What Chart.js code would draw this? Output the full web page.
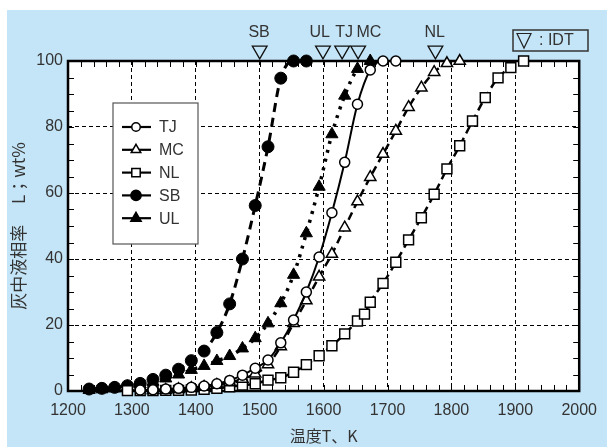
<!DOCTYPE html>
<html><head><meta charset="utf-8">
<script src="https://cdn.jsdelivr.net/npm/chart.js"></script>
<style>html,body{margin:0;padding:0;background:#fff}</style>
</head><body>
<canvas id="c" width="607" height="447"></canvas>
<script>
// ---- data ----
const tjT = [1313,1333,1353,1373,1393,1413,1433,1453,1473,1493,1513,1533,1553,1573,1593,1613,1633,1653,1673,1693,1713];
const tjL = [0.3,0.4,0.6,0.8,1.1,1.5,2.2,3.2,4.8,6.9,9.4,14.6,21.5,30,40.6,54,69.3,86.9,97.3,100,100];
const mcT = [1333,1353,1373,1393,1413,1433,1453,1473,1493,1513,1533,1553,1573,1593,1613,1633,1653,1673,1693,1713,1733,1753,1773,1793,1813];
const mcL = [0.2,0.3,0.5,0.8,1.2,1.8,2.6,3.6,5.2,8.0,13.5,20.5,27.4,34.6,41.5,49.5,57.4,64.8,71.8,78.8,86,91.9,96.6,99.3,100];
const nlT = [1293,1313,1333,1353,1373,1393,1413,1433,1453,1473,1493,1513,1533,1553,1573,1593,1613,1633,1653,1664,1673,1693,1713,1733,1753,1773,1793,1813,1833,1853,1873,1893,1913];
const nlL = [0.1,0.1,0.1,0.2,0.2,0.3,0.5,0.8,1.3,1.8,2.2,3.3,4.0,5.7,8.0,10.7,13.7,17.3,21.2,23.3,26.9,32.6,39,45.8,52.5,59.6,67.3,74.3,81.8,88.9,94.9,98,100];
const sbT = [1233,1253,1273,1293,1313,1333,1353,1373,1393,1413,1433,1453,1473,1493,1513,1533,1553,1573];
const sbL = [0.6,0.8,1.1,1.6,2.3,3.5,4.8,6.6,9.2,12.1,17.7,26.4,40,56.2,74,94.8,100,100];
const ulT = [1233,1253,1273,1293,1313,1333,1353,1373,1393,1413,1433,1453,1473,1493,1513,1533,1553,1573,1593,1613,1633,1653,1673];
const ulL = [0.3,0.5,0.8,1.3,2.0,2.8,3.8,5.0,6.4,7.6,9.1,10.6,12.9,16,20.5,26.6,35.2,47.8,61.9,77.8,89.5,97.6,100];

const seriesNames = ['TJ','MC','NL','SB','UL'];
const idtNames = ['SB','UL','TJ','MC','NL'];
const idtTemps = [1500,1599,1629,1654,1775];
const idtLabelTemps = [1499,1594,1632,1671,1774];
const idtMarkY = 103.2;
const idtLabelY = 108.6;

const xMin = 1200, xMax = 2000, xStep = 100, xMinor = 20;
const yMin = 0, yMax = 100, yStep = 20, yMinor = 5;
const xTitle = '温度T、K';
const yTitle = '灰中液相率　 L；wt%';
const idtBoxText = ': IDT';

// ---- rendering ----
const BLUE = '#c4e5f7';
const TXT = '#333';
const NUMFONT = '"Liberation Sans", Arial, sans-serif';
const CJKFONT = '"Noto Sans CJK JP", "Liberation Sans", sans-serif';

function pts(T, L) { return T.map((t, i) => ({x: t, y: L[i]})); }

const styles = {
  TJ: {borderWidth: 2, borderDash: [], pointStyle: 'circle', pointRadius: 5, fill: '#fff', pbw: 1.5},
  MC: {borderWidth: 2.5, borderDash: [8,5], pointStyle: 'triangle', pointRadius: 6.5, fill: '#fff', pbw: 1.5},
  NL: {borderWidth: 2.5, borderDash: [8,5], pointStyle: 'rect', pointRadius: 7, fill: '#fff', pbw: 1.5},
  SB: {borderWidth: 3, borderDash: [9,6], pointStyle: 'circle', pointRadius: 6, fill: '#000', pbw: 1},
  UL: {borderWidth: 3.5, borderDash: [3,6], pointStyle: 'triangle', pointRadius: 7, fill: '#000', pbw: 1}
};
const seriesData = {TJ: pts(tjT, tjL), MC: pts(mcT, mcL), NL: pts(nlT, nlL), SB: pts(sbT, sbL), UL: pts(ulT, ulL)};

const datasets = seriesNames.map(n => {
  const s = styles[n];
  return {
    label: n, data: seriesData[n], borderColor: '#000', borderWidth: s.borderWidth, borderDash: s.borderDash,
    pointStyle: s.pointStyle, pointRadius: s.pointRadius, pointBackgroundColor: s.fill, pointBorderColor: '#000',
    pointBorderWidth: s.pbw, cubicInterpolationMode: 'monotone', clip: false, fill: false
  };
});

function drawMark(ctx, style, x, y, r, rot) {
  ctx.beginPath();
  if (style === 'circle') ctx.arc(x, y, r, 0, Math.PI * 2);
  else if (style === 'rect') { const s = r * Math.SQRT1_2; ctx.rect(x - s, y - s, 2 * s, 2 * s); }
  else { let a = (rot || 0) * Math.PI / 180; for (let k = 0; k < 3; k++) { const px = x + Math.sin(a) * r, py = y - Math.cos(a) * r; k ? ctx.lineTo(px, py) : ctx.moveTo(px, py); a += 2 * Math.PI / 3; } ctx.closePath(); }
  ctx.fill(); ctx.stroke();
}

const bgPlugin = {
  id: 'bg',
  beforeDraw(chart) {
    const {ctx, chartArea: a} = chart;
    ctx.save();
    ctx.fillStyle = '#fff'; ctx.fillRect(0, 0, chart.width, chart.height);
    ctx.fillStyle = BLUE; ctx.fillRect(7, 10, chart.width - 7, chart.height - 10);
    ctx.fillStyle = '#fff'; ctx.fillRect(a.left, a.top, a.right - a.left, a.bottom - a.top);
    ctx.restore();
  },
  beforeDatasetsDraw(chart) {
    const {ctx, chartArea: a} = chart;
    const xs = chart.scales.x, ys = chart.scales.y;
    ctx.save();
    ctx.strokeStyle = '#000'; ctx.lineWidth = 1;
    ctx.beginPath();
    for (let v = xMin; v <= xMax; v += xMinor) {
      const px = Math.round(xs.getPixelForValue(v)) + 0.5;
      ctx.moveTo(px, a.bottom); ctx.lineTo(px, a.bottom - 6);
      ctx.moveTo(px, a.top); ctx.lineTo(px, a.top + 6);
    }
    for (let v = yMin; v <= yMax; v += yMinor) {
      const py = Math.round(ys.getPixelForValue(v)) + 0.5;
      ctx.moveTo(a.left, py); ctx.lineTo(a.left + 6, py);
      ctx.moveTo(a.right, py); ctx.lineTo(a.right - 6, py);
    }
    ctx.stroke();
    ctx.lineWidth = 2.5;
    ctx.strokeRect(a.left, a.top, a.right - a.left, a.bottom - a.top);
    ctx.restore();
  },
  afterDatasetsDraw(chart) {
    const {ctx} = chart;
    const xs = chart.scales.x, ys = chart.scales.y;
    ctx.save();
    // legend box
    const bx = 113, by = 103, bw = 85, bh = 141;
    ctx.fillStyle = '#fff'; ctx.fillRect(bx, by, bw, bh);
    ctx.strokeStyle = '#555'; ctx.lineWidth = 1.2; ctx.strokeRect(bx, by, bw, bh);
    seriesNames.forEach((n, i) => {
      const s = styles[n];
      const y = 127 + i * 22.8;
      ctx.strokeStyle = '#000'; ctx.lineWidth = 2.2; ctx.setLineDash([]);
      ctx.beginPath(); ctx.moveTo(122, y); ctx.lineTo(151, y); ctx.stroke();
      ctx.fillStyle = s.fill; ctx.lineWidth = 1.5;
      drawMark(ctx, s.pointStyle, 136, y, s.pointRadius * 0.85, 0);
      ctx.fillStyle = TXT; ctx.font = '16px ' + NUMFONT; ctx.textBaseline = 'middle'; ctx.textAlign = 'left';
      ctx.fillText(n, 159, y + 1);
    });
    // IDT markers and labels
    ctx.strokeStyle = '#111'; ctx.lineWidth = 1.3; ctx.fillStyle = BLUE;
    idtTemps.forEach(t => drawMark(ctx, 'triangle', xs.getPixelForValue(t), ys.getPixelForValue(idtMarkY), 8.5, 180));
    ctx.fillStyle = TXT; ctx.font = '16px ' + NUMFONT; ctx.textAlign = 'center'; ctx.textBaseline = 'middle';
    idtNames.forEach((n, i) => {
      ctx.fillText(n, xs.getPixelForValue(idtLabelTemps[i]), ys.getPixelForValue(idtLabelY));
    });
    // IDT key box
    const kx = 513, ky = 30, kw = 75, kh = 21;
    ctx.strokeStyle = '#333'; ctx.lineWidth = 1.5; ctx.strokeRect(kx, ky, kw, kh);
    ctx.strokeStyle = '#222'; ctx.lineWidth = 1.2;
    ctx.beginPath(); ctx.moveTo(517, 33.5); ctx.lineTo(531, 33.5); ctx.lineTo(524, 48); ctx.closePath(); ctx.stroke();
    ctx.fillStyle = TXT; ctx.textAlign = 'left';
    ctx.fillText(idtBoxText, 539, 41);
    ctx.restore();
  }
};

new Chart(document.getElementById('c'), {
  type: 'line',
  data: {datasets},
  options: {
    responsive: false, animation: false, events: [],
    layout: {padding: {top: 61, right: 19, left: 0, bottom: 0}},
    plugins: {legend: {display: false}, tooltip: {enabled: false}},
    scales: {
      x: {
        type: 'linear', min: xMin, max: xMax,
        ticks: {stepSize: xStep, color: TXT, font: {size: 16, family: NUMFONT}, padding: 10, maxRotation: 0, callback: v => String(v)},
        grid: {color: '#000', lineWidth: 1, drawTicks: false},
        border: {display: false, dash: [4,3]},
        title: {display: true, text: xTitle, color: TXT, font: {size: 16, family: CJKFONT}, padding: {top: 0, bottom: 1}},
        afterFit(s) { s.height = 56; }
      },
      y: {
        type: 'linear', min: yMin, max: yMax,
        ticks: {stepSize: yStep, color: TXT, font: {size: 16, family: NUMFONT}, padding: 5, callback: v => String(v)},
        grid: {color: '#000', lineWidth: 1, drawTicks: false},
        border: {display: false, dash: [4,3]},
        title: {display: true, text: yTitle, color: TXT, font: {size: 17, family: CJKFONT}, padding: {top: 8, bottom: 0}},
        afterFit(s) { s.width = 68; }
      }
    }
  },
  plugins: [bgPlugin]
});
</script>
</body></html>
